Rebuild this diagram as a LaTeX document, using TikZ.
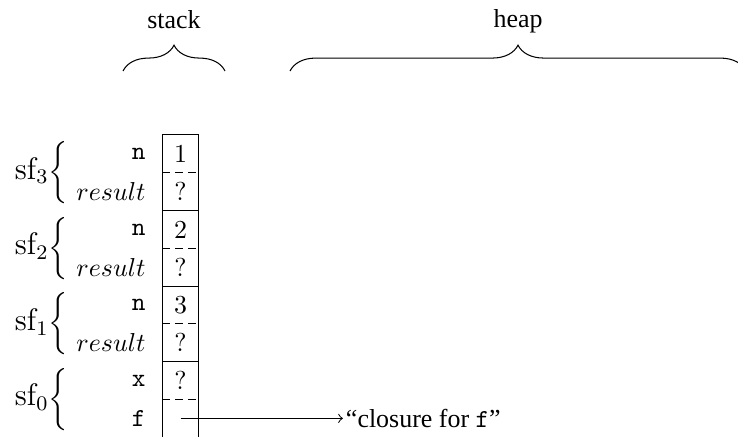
\documentclass[tikz,border=0pt]{standalone}
\usepackage{fontspec}
\newfontfamily\timesfont{Liberation Serif}
\usepackage{tikz}
\usetikzlibrary{positioning,arrows,decorations.pathreplacing}
\tikzset{
    cell/.style={rectangle, minimum width=0.5cm, minimum height=0.512cm, inner sep=0pt, outer sep=0pt},
    varname/.style={inner sep=0pt},
    frame/.style={inner sep=0pt},
    sep/.style={dash pattern=on 3pt off 2pt},
    region/.style={decorate, decoration={brace, amplitude=0.35cm}},
    regionlbl/.style={font=\timesfont, anchor=base, inner sep=0pt},
    ptr/.style={->}
}
\begin{document}
\begin{tikzpicture}
\useasboundingbox (0,0) rectangle (10,5.908);

% stack cells, top to bottom
\node[cell] (c1) at (2.446,3.823) {1};
\node[cell, below=0pt of c1] (c2) {?};
\node[cell, below=0pt of c2] (c3) {2};
\node[cell, below=0pt of c3] (c4) {?};
\node[cell, below=0pt of c4] (c5) {3};
\node[cell, below=0pt of c5] (c6) {?};
\node[cell, below=0pt of c6] (c7) {?};
\node[cell, below=0pt of c7] (c8) {};

\coordinate[below=2mm of c8.south west] (botl);
\coordinate[below=2mm of c8.south east] (botr);
\draw (botl) -- (c1.north west) -- (c1.north east) -- (botr);
\foreach \c in {c2,c4,c6}
    \draw (\c.south west) -- (\c.south east);
\foreach \c in {c1,c3,c5,c7}
    \draw[sep] (\c.south west) -- (\c.south east);

% variable names
\node[varname, left=0.217cm of c1] (n3) {\texttt{n}};
\node[varname, left=0.217cm of c2] (r3) {$result$};
\node[varname, left=0.217cm of c3] (n2) {\texttt{n}};
\node[varname, left=0.217cm of c4] (r2) {$result$};
\node[varname, left=0.217cm of c5] (n1) {\texttt{n}};
\node[varname, left=0.217cm of c6] (r1) {$result$};
\node[varname, left=0.217cm of c7] (x0) {\texttt{x}};
\node[varname, left=0.217cm of c8] (f0) {\texttt{f}};

% stack frames
\node[frame, left=1.267cm of c1.south west] (sf3) {{\large$\mathrm{sf}_3$}$\bigg\{$};
\node[frame, left=1.267cm of c3.south west] (sf2) {{\large$\mathrm{sf}_2$}$\bigg\{$};
\node[frame, left=1.267cm of c5.south west] (sf1) {{\large$\mathrm{sf}_1$}$\bigg\{$};
\node[frame, left=1.267cm of c7.south west] (sf0) {{\large$\mathrm{sf}_0$}$\bigg\{$};

% regions
\coordinate (stackL) at (1.667,4.946);
\coordinate (stackR) at (3.049,4.946);
\coordinate (heapL) at (3.930,4.946);
\coordinate (heapR) at (10.108,4.946);
\draw[region] (stackL) -- (stackR);
\draw[region] (heapL) -- (heapR);
\node[regionlbl] (stack) at (2.358,5.515) {stack};
\node[regionlbl] (heap) at (7.019,5.542) {heap};

% pointer
\node[right=1.95cm of c8, inner sep=1pt, font=\timesfont] (closure) {“closure for \texttt{f}”};
\draw[ptr] (c8.center) -- (closure.west);

\end{tikzpicture}
\end{document}
